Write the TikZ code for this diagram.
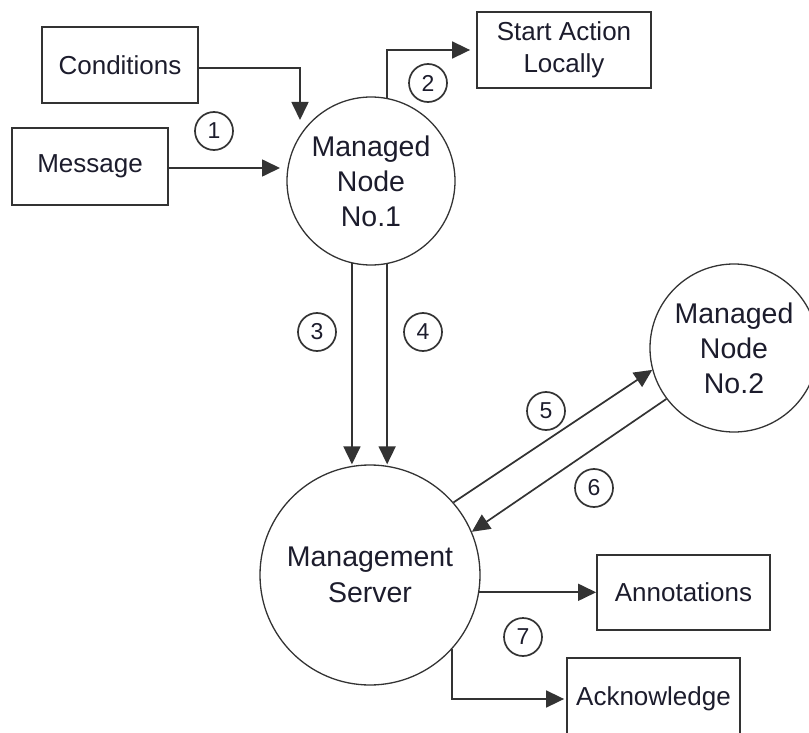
\documentclass[tikz,border=0pt]{standalone}
\usepackage{fontspec}
\setmainfont{Liberation Sans}
\usetikzlibrary{arrows.meta}
\definecolor{ink}{HTML}{1C1C2C}
\definecolor{edge}{HTML}{333333}
\begin{document}
\begin{tikzpicture}[x=1pt,y=-1pt,
  box/.style={draw=edge,line width=1.8pt,minimum width=#1,minimum height=76pt,
    inner sep=0pt,align=center,text=ink,font=\fontsize{26}{32}\selectfont},
  box/.default=156pt,
  bignode/.style={draw=edge,circle,line width=1.3pt,minimum size=#1,inner sep=0pt,
    align=center,text=ink,font=\fontsize{28.5}{35}\selectfont},
  num/.style={draw=edge,circle,line width=1.7pt,minimum size=38pt,inner sep=0pt,
    text=ink,font=\fontsize{23}{23}\selectfont},
  arr/.style={draw=edge,line width=1.7pt,-{Triangle[length=18pt,width=17pt]}},
]
\useasboundingbox (0,0) rectangle (809,733);

% input boxes
\node[box] (cond) at (120,65) {Conditions};
\node[box,minimum height=77pt] (msg) at (90,166.5) {Message};
\node[box=174pt] (start) at (564,50) {Start Action\\Locally};

% managed nodes and the server
\node[bignode=168pt] (n1) at (371,181) {Managed\\Node\\No.1};
\node[bignode=168pt] (n2) at (734,348) {Managed\\Node\\No.2};
\node[bignode=220pt,font=\fontsize{28.5}{36}\selectfont] (srv) at (370,575) {Management\\Server};

% output boxes
\node[box=173pt,minimum height=75pt] (ann) at (683.5,592.5) {Annotations};
\node[box=173pt,minimum height=82pt] (ack) at (653.5,699) {Acknowledge};

% step numbers
\node[num] (c1) at (214,131) {1};
\node[num] (c2) at (428,83) {2};
\node[num] (c3) at (317,332) {3};
\node[num] (c4) at (423,332) {4};
\node[num] (c5) at (546,411) {5};
\node[num] (c6) at (594,488) {6};
\node[num] (c7) at (523,637) {7};

% free ends of the two incoming arrows
\coordinate (condin) at (300,120);
\coordinate (msgin) at (280,168);

% connectors
\draw[arr] ([yshift=-3pt]cond.east) -| (condin);
\draw[arr] ([yshift=-1.5pt]msg.east) -- (msgin);
\draw[arr] (n1.79) |- ([xshift=-6pt]start.west);
\draw[arr] (n1.257) -- (n1.257 |- srv.north);
\draw[arr] (n1.281) -- (n1.281 |- srv.north);
\draw[arr] (srv.41) -- (n2.195);
\draw[arr] (n2.217) -- (srv.23);
\draw[arr] (srv.-9) -- (srv.-9 -| ann.west);
\draw[arr] (srv.-42) |- ([xshift=-2pt]ack.west);
\end{tikzpicture}
\end{document}
